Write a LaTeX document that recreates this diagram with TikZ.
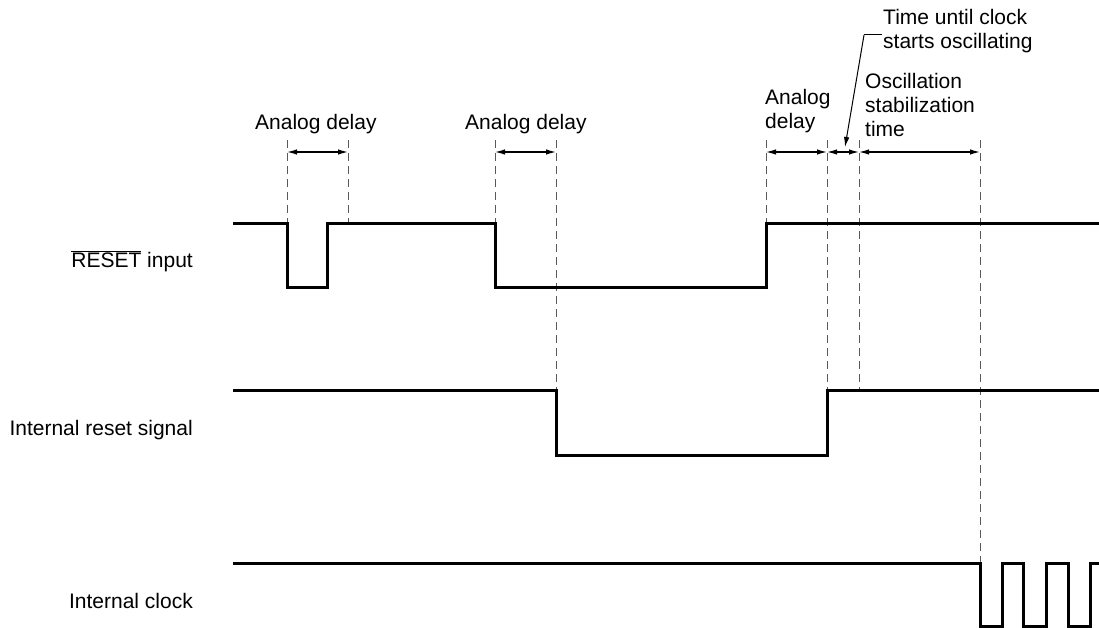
\documentclass[tikz,border=0pt]{standalone}
\usepackage{fontspec}
\setmainfont{Liberation Sans}
\usetikzlibrary{arrows.meta}
\begin{document}
\begin{tikzpicture}[x=1pt,y=-1pt,
  lbl/.style={inner sep=0pt,font=\fontsize{21}{24}\selectfont},
  sig/.style={line width=3pt,line join=miter,black},
  guide/.style={line width=1pt,black!65,dash pattern=on 8pt off 5pt},
  dim/.style={line width=1.3pt,{Latex[length=10pt,width=5.5pt]}-{Latex[length=10pt,width=5.5pt]}},
  lead/.style={line width=1pt,-{Latex[length=10pt,width=5.5pt]}}]
\useasboundingbox (0,0) rectangle (1099,628);
% labels on the left
\node[lbl,anchor=base east] (lr) at (193,267) {$\overline{\mbox{RESET}}$ input};
\node[lbl,anchor=base east] (li) at (193,435) {Internal reset signal};
\node[lbl,anchor=base east] (lc) at (193,608) {Internal clock};
% guide lines
\foreach \x/\y in {287/224,348/224,495/224,556/390,766/224,827/390,859/390,980/563}
  \draw[guide] (\x,140) -- (\x,\y);
% waveforms
\draw[sig] (233,224) -- (287,224) -- (287,287) -- (327,287) -- (327,224) -- (495,224)
  -- (495,287) -- (766,287) -- (766,224) -- (1099,224);
\draw[sig] (233,390) -- (556,390) -- (556,455) -- (827,455) -- (827,390) -- (1099,390);
\draw[sig] (233,563) -- (980,563) -- (980,626) -- (1002,626) -- (1002,563) -- (1023,563)
  -- (1023,626) -- (1046,626) -- (1046,563) -- (1068,563) -- (1068,626) -- (1090,626)
  -- (1090,563) -- (1099,563);
% dimension arrows
\coordinate (a1) at (287,152); \coordinate (a2) at (348,152);
\coordinate (b1) at (495,152); \coordinate (b2) at (556,152);
\coordinate (c1) at (766,152); \coordinate (c2) at (827,152);
\coordinate (c3) at (859,152); \coordinate (c4) at (980,152);
\draw[dim] (a1) -- (a2);
\draw[dim] (b1) -- (b2);
\draw[dim] (c1) -- (c2);
\draw[dim] (c2) -- (c3);
\draw[dim] (c3) -- (c4);
% top labels
\node[lbl,anchor=base west] (t1) at (255,130) {Analog delay};
\node[lbl,anchor=base west] (t2) at (465,130) {Analog delay};
\node[lbl,anchor=base west,align=left] (t3) at (765,129) {Analog\\delay};
\node[lbl,anchor=base west,align=left] (t4) at (865,137) {Oscillation\\stabilization\\time};
\node[lbl,anchor=base west,align=left] (t5) at (883,49) {Time until clock\\starts oscillating};
\coordinate (k1) at (882,35);
\coordinate (k2) at (864,35);
\coordinate (k3) at (845,147);
\draw[line width=1pt] (k1) -- (k2);
\draw[lead] (k2) -- (k3);
\end{tikzpicture}
\end{document}
